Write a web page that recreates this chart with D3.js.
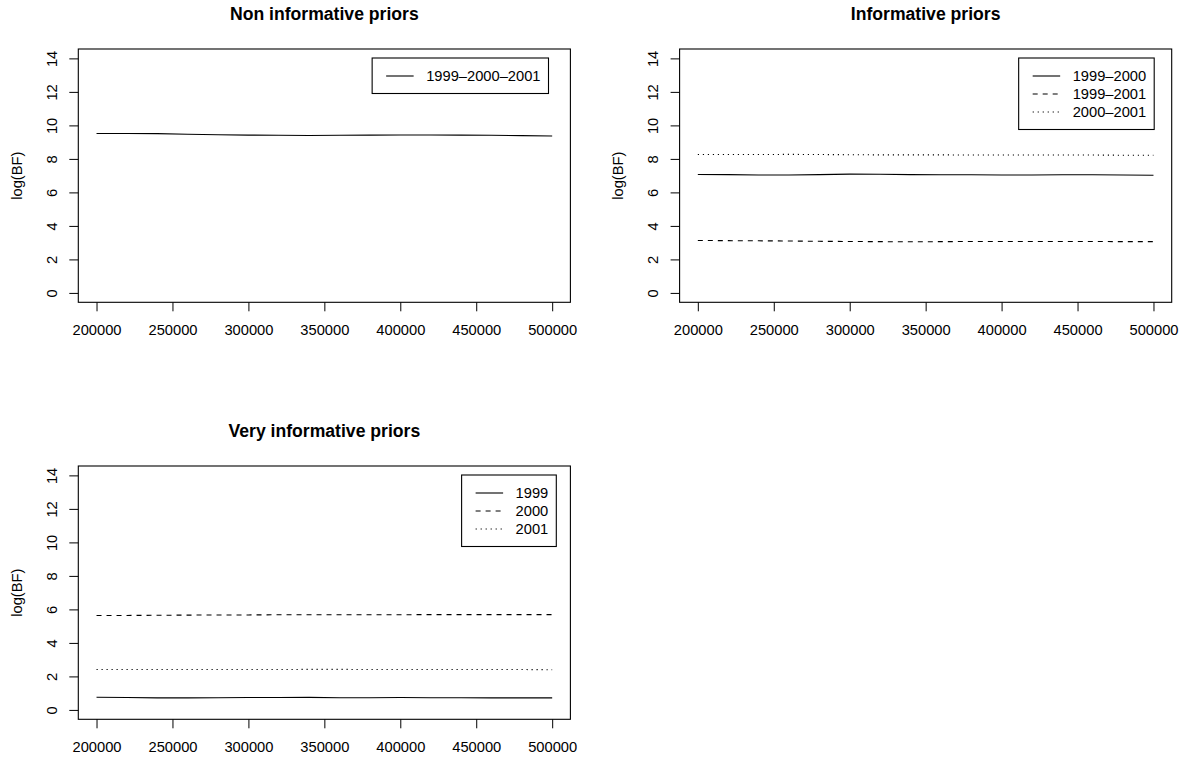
<!DOCTYPE html>
<html>
<head>
<meta charset="utf-8">
<script src="https://cdn.jsdelivr.net/npm/d3@7"></script>
<style>
  html, body { margin: 0; padding: 0; background: #fff; }
  svg text { font-family: "Liberation Sans", Arial, Helvetica, sans-serif; fill: #000; }
</style>
</head>
<body>
<svg id="chart" width="1201" height="761"></svg>
<script>
// ---- data ----
const iterations = [200000, 220000, 240000, 260000, 280000, 300000, 320000, 340000,
                    360000, 380000, 400000, 420000, 440000, 460000, 480000, 500000];

const nonInf_1999_2000_2001 = [9.52, 9.52, 9.51, 9.47, 9.44, 9.42, 9.41, 9.40, 9.41, 9.42, 9.43, 9.43, 9.42, 9.41, 9.39, 9.37];

const inf_1999_2000 = [7.07, 7.06, 7.04, 7.04, 7.06, 7.09, 7.08, 7.06, 7.05, 7.05, 7.04, 7.04, 7.05, 7.05, 7.04, 7.02];
const inf_1999_2001 = [3.13, 3.12, 3.11, 3.10, 3.08, 3.07, 3.06, 3.05, 3.06, 3.07, 3.07, 3.07, 3.07, 3.07, 3.06, 3.06];
const inf_2000_2001 = [8.26, 8.26, 8.26, 8.27, 8.26, 8.25, 8.24, 8.24, 8.24, 8.23, 8.23, 8.23, 8.23, 8.23, 8.22, 8.22];

const vinf_1999 = [0.76, 0.74, 0.72, 0.72, 0.73, 0.74, 0.74, 0.75, 0.73, 0.73, 0.74, 0.73, 0.73, 0.72, 0.72, 0.72];
const vinf_2000 = [5.64, 5.64, 5.65, 5.66, 5.67, 5.67, 5.68, 5.68, 5.68, 5.68, 5.68, 5.69, 5.69, 5.69, 5.69, 5.69];
const vinf_2001 = [2.41, 2.41, 2.41, 2.41, 2.41, 2.41, 2.41, 2.42, 2.42, 2.41, 2.41, 2.41, 2.41, 2.41, 2.41, 2.40];

const xTicks = [200000, 250000, 300000, 350000, 400000, 450000, 500000];
const yTicks = [0, 2, 4, 6, 8, 10, 12, 14];
const yLabel = "log(BF)";

const panelTitles = ["Non informative priors", "Informative priors", "Very informative priors"];

// ---- layout / styles ----
const W = 492.1, H = 253.3;
const panels = [
  { left: 78.3, top: 49, title: panelTitles[0], legendRight: 470.2,
    series: [ { name: "1999–2000–2001", values: nonInf_1999_2000_2001, dash: null } ] },
  { left: 679.6, top: 49, title: panelTitles[1], legendRight: 474.6,
    series: [ { name: "1999–2000", values: inf_1999_2000, dash: null },
              { name: "1999–2001", values: inf_1999_2001, dash: "5,5" },
              { name: "2000–2001", values: inf_2000_2001, dash: "1.2,3.8" } ] },
  { left: 78.3, top: 466, title: panelTitles[2], legendRight: 478,
    series: [ { name: "1999", values: vinf_1999, dash: null },
              { name: "2000", values: vinf_2000, dash: "5,5" },
              { name: "2001", values: vinf_2001, dash: "1.2,3.8" } ] }
];

const FS = 14.7;
const svg = d3.select("#chart");

const xExt = [d3.min(xTicks), d3.max(xTicks)];
const xPad = (xExt[1] - xExt[0]) * 0.04;
const yExt = [d3.min(yTicks), d3.max(yTicks)];
const yPad = (yExt[1] - yExt[0]) * 0.04;

panels.forEach(p => {
  const g = svg.append("g").attr("transform", `translate(${p.left},${p.top})`);
  const x = d3.scaleLinear().domain([xExt[0] - xPad, xExt[1] + xPad]).range([0, W]);
  const y = d3.scaleLinear().domain([yExt[0] - yPad, yExt[1] + yPad]).range([H, 0]);

  // title
  g.append("text")
    .attr("x", W / 2).attr("y", -29.4)
    .attr("text-anchor", "middle")
    .attr("font-weight", "bold")
    .attr("font-size", 17.6)
    .text(p.title);

  // x axis
  const xAxis = d3.axisBottom(x).tickValues(xTicks).tickSize(9).tickPadding(0)
    .tickFormat(d3.format("d"));
  const gx = g.append("g").attr("transform", `translate(0,${H})`).call(xAxis);
  gx.select(".domain").remove();
  gx.selectAll(".tick line").attr("stroke", "#000").attr("stroke-width", 1);
  gx.selectAll(".tick text")
    .attr("y", 32.7).attr("dy", 0)
    .attr("font-size", FS)
    .attr("font-family", "Liberation Sans, Arial, sans-serif");

  // y axis
  const yAxis = d3.axisLeft(y).tickValues(yTicks).tickSize(9).tickPadding(0)
    .tickFormat(d3.format("d"));
  const gy = g.append("g").call(yAxis);
  gy.select(".domain").remove();
  gy.selectAll(".tick line").attr("stroke", "#000").attr("stroke-width", 1);
  gy.selectAll(".tick text")
    .attr("x", 0).attr("dy", 0)
    .attr("text-anchor", "middle")
    .attr("transform", "translate(-21.3,0) rotate(-90)")
    .attr("font-size", FS)
    .attr("font-family", "Liberation Sans, Arial, sans-serif");

  // y label
  g.append("text")
    .attr("transform", `translate(-56.8,${H / 2}) rotate(-90)`)
    .attr("text-anchor", "middle")
    .attr("font-size", FS)
    .text(yLabel);

  // lines
  const line = d3.line().x((d, i) => x(iterations[i])).y(d => y(d));
  p.series.forEach(s => {
    g.append("path")
      .datum(s.values)
      .attr("d", line)
      .attr("fill", "none")
      .attr("stroke", "#000")
      .attr("stroke-width", 1.1)
      .attr("stroke-dasharray", s.dash);
  });

  // box
  g.append("rect")
    .attr("x", 0).attr("y", 0).attr("width", W).attr("height", H)
    .attr("fill", "none").attr("stroke", "#000").attr("stroke-width", 1.1);

  // legend
  const lg = g.append("g");
  const texts = [];
  p.series.forEach((s, i) => {
    const t = lg.append("text").attr("font-size", FS).attr("dy", "0.36em").text(s.name);
    texts.push(t);
  });
  const tw = d3.max(texts, t => t.node().getComputedTextLength());
  const padL = 14, sample = 27.5, gap = 12.5, padR = 8;
  const lw = padL + sample + gap + tw + padR;
  const lx = p.legendRight - lw;
  const ly = 9;
  const lh = 35.5 + 18 * (p.series.length - 1);
  lg.insert("rect", ":first-child")
    .attr("x", lx).attr("y", ly).attr("width", lw).attr("height", lh)
    .attr("fill", "#fff").attr("stroke", "#000").attr("stroke-width", 1.1);
  p.series.forEach((s, i) => {
    const cy = ly + 18 + 18 * i;
    lg.append("line")
      .attr("x1", lx + padL).attr("x2", lx + padL + sample)
      .attr("y1", cy).attr("y2", cy)
      .attr("stroke", "#000").attr("stroke-width", 1.1)
      .attr("stroke-dasharray", s.dash);
    texts[i].attr("x", lx + padL + sample + gap).attr("y", cy);
  });
});
</script>
</body>
</html>
